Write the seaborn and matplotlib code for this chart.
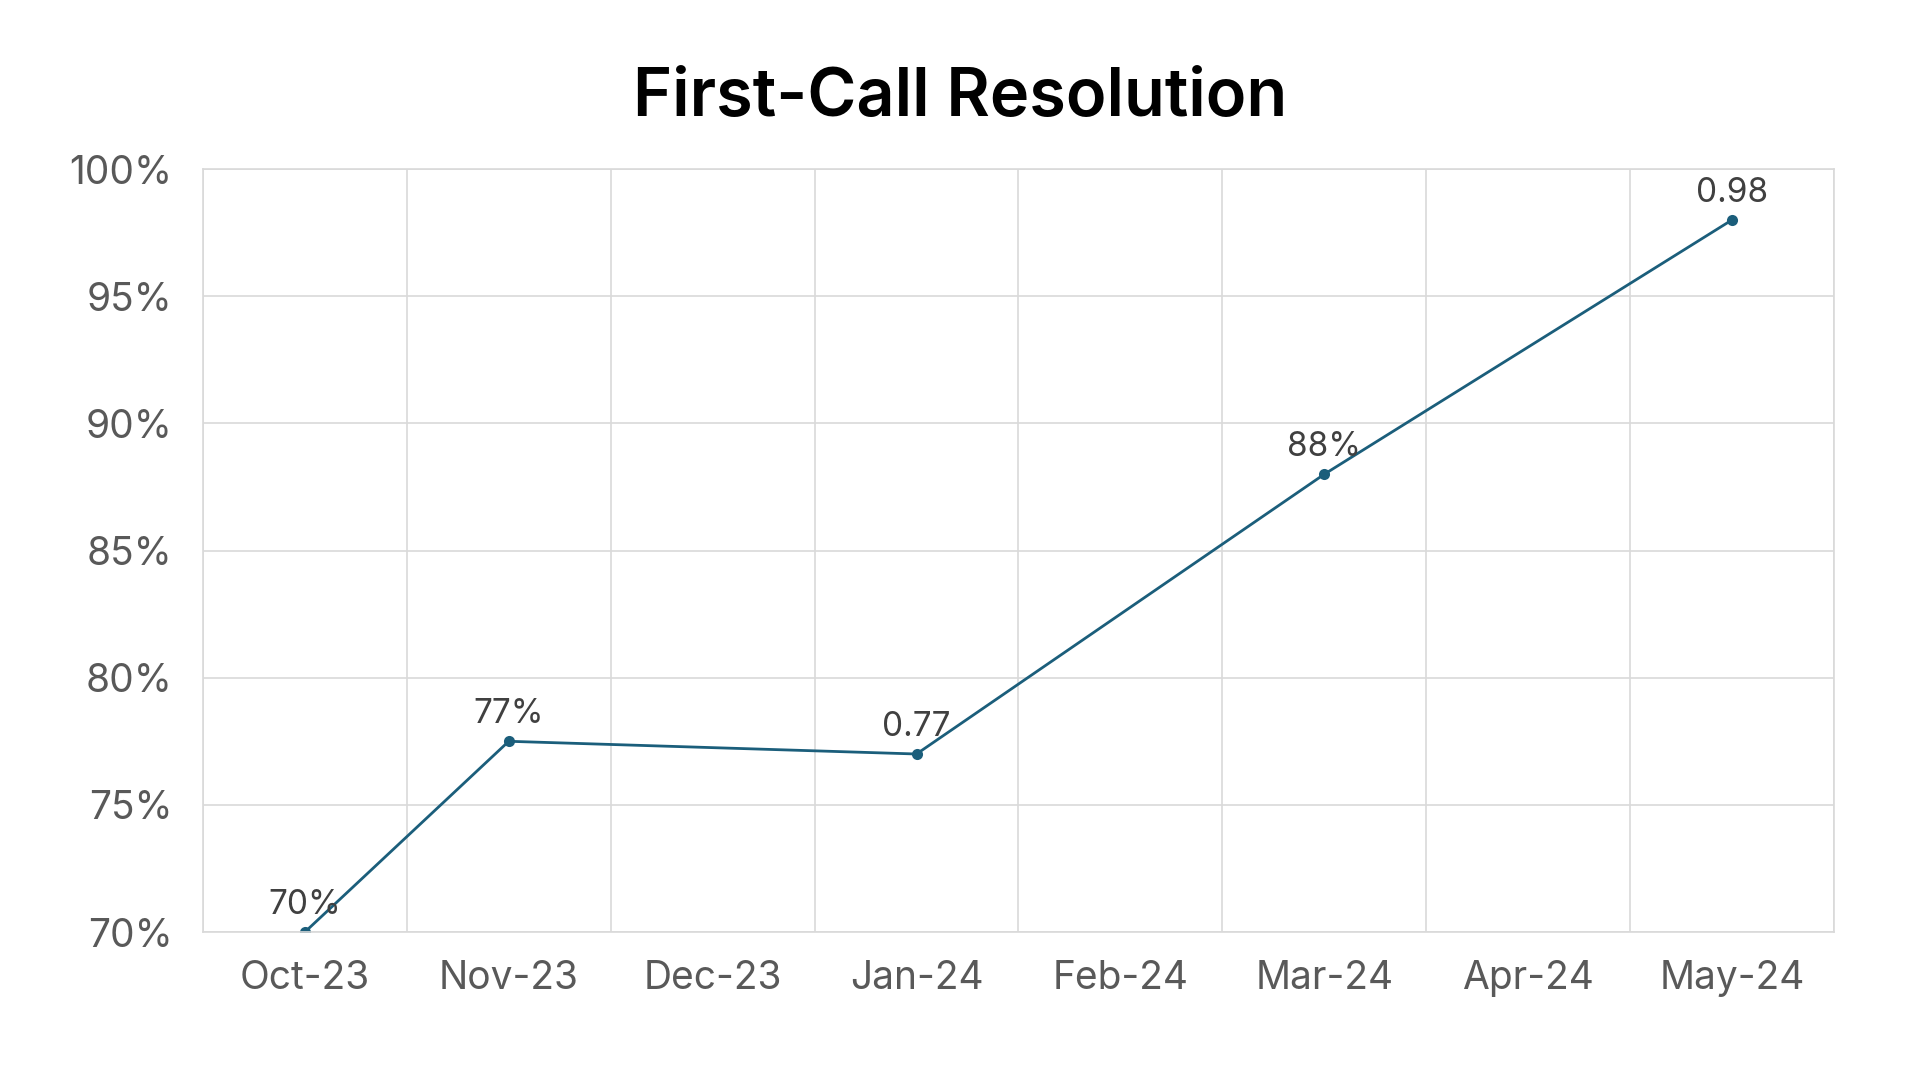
import pandas as pd
import numpy as np
import matplotlib.pyplot as plt
import seaborn as sns

# Datos
months = ["Oct-23", "Nov-23", "Dec-23", "Jan-24", "Feb-24", "Mar-24", "Apr-24", "May-24"]
fcr = [0.70, 0.775, np.nan, 0.77, np.nan, 0.88, np.nan, 0.98]
point_labels = ["70%", "77%", None, "0.77", None, "88%", None, "0.98"]
y_ticks = [0.70, 0.75, 0.80, 0.85, 0.90, 0.95, 1.00]

sns.set_theme(style="whitegrid")
plt.rcParams["font.family"] = ["Inter", "DejaVu Sans"]

line_color = "#1B5E7B"
grid_color = "#D9D9D9"

df = pd.DataFrame({"Mes": months, "FCR": fcr, "Etiqueta": point_labels})
df["pos"] = range(len(df))
df_ok = df.dropna(subset=["FCR"])

fig = plt.figure(figsize=(19.2, 10.8), dpi=100)
ax = fig.add_axes([0.1057, 0.137, 0.8495, 0.7065])

sns.lineplot(data=df_ok, x="pos", y="FCR", color=line_color, linewidth=2.0,
             marker="o", markersize=8, markeredgewidth=0, ax=ax)

for _, r in df_ok.iterrows():
    ax.annotate(r["Etiqueta"], (r["pos"], r["FCR"]), xytext=(0, 13),
                textcoords="offset points", ha="center", va="baseline",
                fontsize=24, color="#404040")

ax.set_xlim(-0.5, len(months) - 0.5)
ax.set_ylim(0.70, 1.00)
ax.set_yticks(y_ticks)
ax.set_yticklabels([f"{int(round(v * 100))}%" for v in y_ticks])
ax.set_xticks(df["pos"])
ax.set_xticklabels(months)
ax.set_xticks(np.arange(-0.5, len(months), 1.0), minor=True)

ax.grid(False)
ax.grid(True, axis="y", which="major", color=grid_color, linewidth=1.2)
ax.grid(True, axis="x", which="minor", color=grid_color, linewidth=1.2)
ax.tick_params(axis="both", which="both", length=0, labelsize=28, labelcolor="#595959")
ax.tick_params(axis="y", pad=22)
ax.tick_params(axis="x", pad=20)
ax.set_xlabel("")
ax.set_ylabel("")
for s in ax.spines.values():
    s.set_color(grid_color)
    s.set_linewidth(1.2)
ax.set_facecolor("white")

fig.text(0.5, 0.8926, "First-Call Resolution", ha="center", va="baseline",
         fontsize=48, fontweight="semibold", color="black")

fig.savefig("out.png", dpi=100, facecolor="white")
